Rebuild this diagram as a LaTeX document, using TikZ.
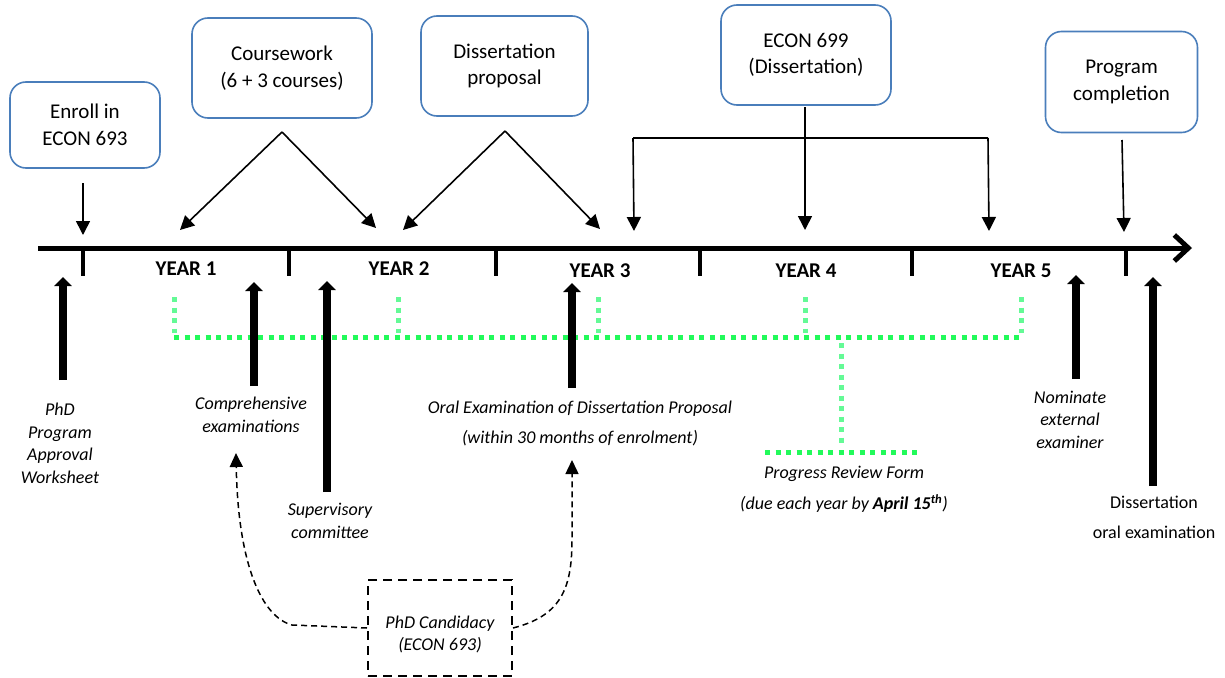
\documentclass[tikz,border=0pt]{standalone}
\usepackage{fontspec}
\setmainfont{Carlito}
\usetikzlibrary{arrows.meta}
\definecolor{boxblue}{RGB}{74,126,187}
\definecolor{dotgreen}{RGB}{34,250,90}
\definecolor{dotlight}{RGB}{100,250,150}
\begin{document}
\begin{tikzpicture}[x=1pt,y=-1pt,
  phase/.style={draw=boxblue, line width=1.6pt, rounded corners=16pt, align=center,
    font=\fontsize{21}{26.5}\selectfont, inner sep=0pt},
  yearlbl/.style={font=\fontsize{21}{25}\selectfont\bfseries, inner sep=0pt},
  lbl/.style={align=center, font=\fontsize{18}{22.5}\selectfont\itshape, inner sep=0pt},
  thinarrow/.style={line width=1.6pt, -{Triangle[length=14pt,width=14pt]}},
  thickarrow/.style={line width=7.5pt, -{Triangle[length=9pt,width=17pt]}},
  ticklbl/.style={line width=4pt},
  gdot/.style={dotgreen, line width=5pt, dash pattern=on 5pt off 5.5pt},
  gdotv/.style={dotlight, line width=5pt, dash pattern=on 5pt off 5.5pt},
  candarrow/.style={line width=1.5pt, dash pattern=on 6pt off 4pt, -{Triangle[length=14pt,width=13pt]}},
]
\useasboundingbox (0,0) rectangle (1225,677);

% boxes
\node[phase, minimum width=150pt, minimum height=86pt] (enroll) at (85,125) {Enroll in\\ECON 693};
\node[phase, minimum width=180pt, minimum height=100pt] (course) at (282,68) {Coursework\\(6 + 3 courses)};
\node[phase, minimum width=167pt, minimum height=100pt] (dprop) at (504.5,66) {Dissertation\\proposal};
\node[phase, minimum width=170pt, minimum height=100pt] (econ) at (806,55) {ECON 699\\(Dissertation)};
\node[phase, minimum width=152pt, minimum height=101pt] (prog) at (1121.5,82) {Program\\completion};

% timeline
\coordinate (tlS) at (38,248);
\coordinate (tlE) at (1192,248);
\draw[line width=5pt, -{Straight Barb[length=14pt,width=26pt,line width=5pt]}] (tlS) -- (tlE);
\foreach \x in {83,289,496,700,912,1126}
  \draw[ticklbl] (\x,248) -- (\x,276);

\node[yearlbl] (y1) at (186,269) {YEAR 1};
\node[yearlbl] (y2) at (399,269) {YEAR 2};
\node[yearlbl] (y3) at (600,271) {YEAR 3};
\node[yearlbl] (y4) at (806,271) {YEAR 4};
\node[yearlbl] (y5) at (1021,271) {YEAR 5};

% down arrows
\coordinate (enA) at (83,183);   \coordinate (enB) at (83,235);
\draw[thinarrow] (enA) -- (enB);
\coordinate (cwA) at (282,132);  \coordinate (cwL) at (180,230); \coordinate (cwR) at (376,228);
\draw[thinarrow] (cwA) -- (cwL);
\draw[thinarrow] (cwA) -- (cwR);
\coordinate (dpA) at (505,131);  \coordinate (dpL) at (403,230); \coordinate (dpR) at (600,229);
\draw[thinarrow] (dpA) -- (dpL);
\draw[thinarrow] (dpA) -- (dpR);
\coordinate (ecA) at (805,107);  \coordinate (ecB) at (805,230);
\coordinate (ecL) at (633,138);  \coordinate (ecLB) at (634,231);
\coordinate (ecR) at (988,138);  \coordinate (ecRB) at (989,231);
\draw[thinarrow] (ecA) -- (ecB);
\draw[line width=1.6pt] (ecL) -- (ecR);
\draw[thinarrow] (ecL) -- (ecLB);
\draw[thinarrow] (ecR) -- (ecRB);
\coordinate (pcA) at (1122,140); \coordinate (pcB) at (1124,232);
\draw[thinarrow] (pcA) -- (pcB);

% green dotted bracket
\draw[gdot] (174,337) -- (1024,337);
\foreach \x in {174,398,598,805,1021}
  \draw[gdotv] (\x,297) -- (\x,333);
\draw[gdotv] (841,343) -- (841,445);
\draw[gdot] (765,452) -- (920,452);

% up arrows
\coordinate (phA) at (63,380);   \coordinate (phB) at (63,277);
\coordinate (coA) at (254,386);  \coordinate (coB) at (254,282);
\coordinate (suA) at (327,492);  \coordinate (suB) at (327,281);
\coordinate (orA) at (572,388);  \coordinate (orB) at (572,283);
\coordinate (noA) at (1076,379); \coordinate (noB) at (1076,275);
\coordinate (diA) at (1153,486); \coordinate (diB) at (1153,277);
\draw[thickarrow] (phA) -- (phB);
\draw[thickarrow] (coA) -- (coB);
\draw[thickarrow] (suA) -- (suB);
\draw[thickarrow] (orA) -- (orB);
\draw[thickarrow] (noA) -- (noB);
\draw[thickarrow] (diA) -- (diB);

% labels
\node[lbl] (lphd) at (60,443.5) {PhD\\Program\\Approval\\Worksheet};
\node[lbl] (lcomp) at (251,415) {Comprehensive\\examinations};
\node[lbl] (lsup) at (330,521) {Supervisory\\committee};
\node[lbl, font=\fontsize{18}{30}\selectfont\itshape] (loral) at (580,423) {Oral Examination of Dissertation Proposal\\(within 30 months of enrolment)};
\node[lbl, font=\fontsize{18}{31}\selectfont\itshape] (lprog) at (844,489.5) {Progress Review Form\\(due each year by \textbf{April 15\textsuperscript{th}})};
\node[lbl] (lnom) at (1070,419.5) {Nominate\\external\\examiner};
\node[lbl, font=\fontsize{18}{30}\selectfont] (ldiss) at (1154,517) {Dissertation\\oral examination};

% candidacy
\node[draw, line width=2pt, dash pattern=on 9pt off 6pt, minimum width=144pt, minimum height=96pt, inner sep=0pt] (cand) at (440,628) {};
\node[lbl] (candtxt) at (440,634.5) {PhD Candidacy\\(ECON 693)};
\coordinate (caL) at (236,453);
\coordinate (caR) at (572,460);
\draw[candarrow] (cand.west) -- (292,625) .. controls (262,617) and (238,565) .. (caL);
\draw[candarrow] (cand.east) .. controls (560,616) and (572,590) .. (572,540) -- (caR);
\end{tikzpicture}
\end{document}
